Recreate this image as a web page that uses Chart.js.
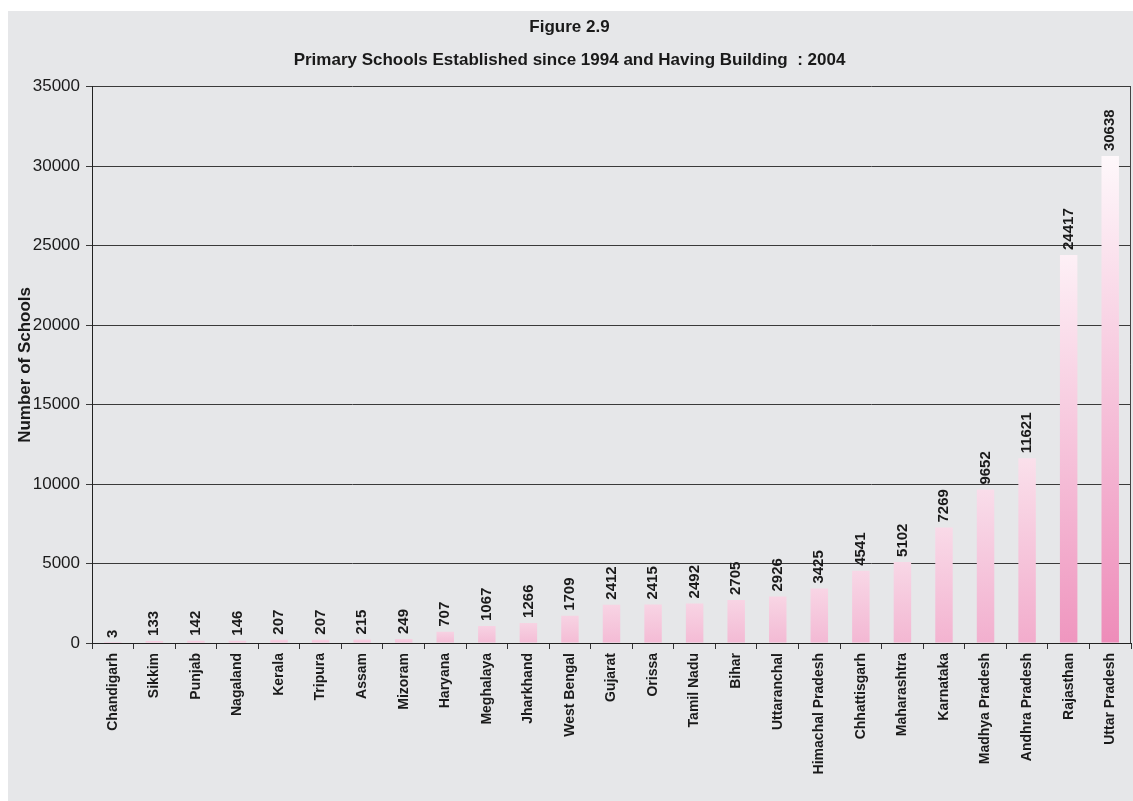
<!DOCTYPE html>
<html>
<head>
<meta charset="utf-8">
<script src="https://cdn.jsdelivr.net/npm/chart.js"></script>
<style>
  body { margin: 0; background: #ffffff; }
  #panel { position: absolute; left: 8px; top: 11px; width: 1125px; height: 790px; background: #e6e7e9; }
</style>
</head>
<body>
<div id="panel"><canvas id="chart" width="1125" height="790"></canvas></div>
<script>
// Data
const states = ['Chandigarh', 'Sikkim', 'Punjab', 'Nagaland', 'Kerala', 'Tripura', 'Assam', 'Mizoram',
    'Haryana', 'Meghalaya', 'Jharkhand', 'West Bengal', 'Gujarat', 'Orissa', 'Tamil Nadu', 'Bihar',
    'Uttaranchal', 'Himachal Pradesh', 'Chhattisgarh', 'Maharashtra', 'Karnataka', 'Madhya Pradesh',
    'Andhra Pradesh', 'Rajasthan', 'Uttar Pradesh'];
const schools = [3, 133, 142, 146, 207, 207, 215, 249, 707, 1067, 1266, 1709, 2412, 2415, 2492, 2705,
    2926, 3425, 4541, 5102, 7269, 9652, 11621, 24417, 30638];
const yTicks = [0, 5000, 10000, 15000, 20000, 25000, 30000, 35000];

const FONT = "'Liberation Sans', Arial, sans-serif";
const maxVal = Math.max(...schools);

function mix(a, b, t) {
    const pa = [1, 3, 5].map(i => parseInt(a.substr(i, 2), 16));
    const pb = [1, 3, 5].map(i => parseInt(b.substr(i, 2), 16));
    return 'rgb(' + pa.map((v, i) => Math.round(v + (pb[i] - v) * t)).join(',') + ')';
}

function barFill(context) {
    const chart = context.chart;
    if (!chart.chartArea) return '#f5c2d9';
    const v = context.raw;
    const t = v / maxVal;
    const yTop = chart.scales.y.getPixelForValue(v);
    const yBase = chart.scales.y.getPixelForValue(0);
    if (yBase - yTop < 1) return '#f5c2d9';
    const g = chart.ctx.createLinearGradient(0, yTop, 0, yBase);
    g.addColorStop(0, mix('#f7d1e2', '#fef8fb', t));
    g.addColorStop(1, mix('#f4bfd7', '#ee8cb9', t));
    return g;
}

// value labels above bars, rotated
const valueLabels = {
    id: 'valueLabels',
    afterDatasetsDraw(chart) {
        const ctx = chart.ctx;
        const meta = chart.getDatasetMeta(0);
        ctx.save();
        ctx.fillStyle = '#1a1a1a';
        ctx.font = 'bold 15px ' + FONT;
        ctx.textAlign = 'left';
        ctx.textBaseline = 'middle';
        meta.data.forEach((bar, i) => {
            ctx.save();
            ctx.translate(bar.x, bar.y - 5);
            ctx.rotate(-Math.PI / 2);
            ctx.fillText(String(schools[i]), 0, 0);
            ctx.restore();
        });
        ctx.restore();
    }
};

// right border of plot area
const plotBorder = {
    id: 'plotBorder',
    afterDraw(chart) {
        const a = chart.chartArea;
        const ctx = chart.ctx;
        ctx.save();
        ctx.strokeStyle = '#444';
        ctx.lineWidth = 1;
        ctx.beginPath();
        ctx.moveTo(a.right - 0.5, a.top);
        ctx.lineTo(a.right - 0.5, a.bottom);
        ctx.stroke();
        ctx.restore();
    }
};

new Chart(document.getElementById('chart'), {
    type: 'bar',
    data: {
        labels: states,
        datasets: [{
            label: 'Number of Schools',
            data: schools,
            backgroundColor: barFill,
            borderWidth: 0,
            barPercentage: 0.42,
            categoryPercentage: 1
        }]
    },
    options: {
        responsive: false,
        animation: false,
        layout: { padding: { left: 0, right: 2, top: 0, bottom: 0 } },
        plugins: {
            legend: { display: false },
            tooltip: { enabled: false },
            title: {
                display: true,
                text: 'Figure 2.9',
                color: '#1a1a1a',
                font: { family: FONT, size: 17, weight: 'bold' },
                padding: { top: 6, bottom: 7 }
            },
            subtitle: {
                display: true,
                text: 'Primary Schools Established since 1994 and Having Building  : 2004',
                color: '#1a1a1a',
                font: { family: FONT, size: 17, weight: 'bold' },
                padding: { top: 6, bottom: 16 }
            }
        },
        scales: {
            x: {
                offset: true,
                grid: { display: true, drawOnChartArea: false, drawTicks: true, tickLength: 6, color: '#333', offset: true },
                border: { display: true, color: '#222', width: 1 },
                ticks: {
                    color: '#1a1a1a',
                    font: { family: FONT, size: 14, weight: 'bold' },
                    minRotation: 90,
                    maxRotation: 90,
                    autoSkip: false,
                    padding: 4
                },
                afterFit(scale) { scale.height = 158; }
            },
            y: {
                min: 0,
                max: 35000,
                afterBuildTicks(scale) { scale.ticks = yTicks.map(v => ({ value: v })); },
                grid: { color: '#3a3a3a', lineWidth: 1, tickLength: 6 },
                border: { display: true, color: '#222', width: 1 },
                ticks: {
                    color: '#1a1a1a',
                    font: { family: FONT, size: 17 },
                    padding: 6,
                    callback: v => String(v)
                },
                title: {
                    display: true,
                    text: 'Number of Schools',
                    color: '#1a1a1a',
                    font: { family: FONT, size: 17, weight: 'bold' },
                    padding: { top: 7, bottom: 4 }
                },
                afterFit(scale) { scale.width = 84; }
            }
        }
    },
    plugins: [valueLabels, plotBorder]
});
</script>
</body>
</html>
